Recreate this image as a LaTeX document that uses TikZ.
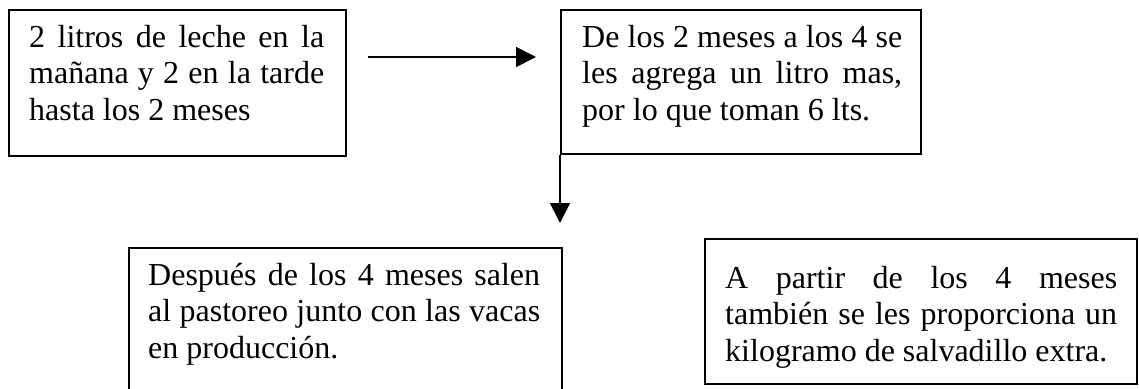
\documentclass[tikz,border=0pt]{standalone}
\usepackage{fontspec}
\setmainfont{Liberation Serif}
\usetikzlibrary{arrows.meta}
\hyphenpenalty=10000
\tolerance=10000
\hbadness=10000

\begin{document}
\begin{tikzpicture}[x=1pt,y=-1pt]

\tikzset{caja/.style = {shape=rectangle,draw,line width=1.8pt,anchor=north west,inner sep=0pt}}
\tikzset{texto/.style = {anchor=north west,inner sep=0pt,align=justify,font=\fontsize{32}{36.5}\selectfont}}
\tikzset{edge/.style = {line width=1.8pt,-{Triangle[length=20pt,width=20pt]}}}

\useasboundingbox (0,0) rectangle (1139,388);

\node[caja,minimum width=337pt,minimum height=146pt] (c1) at (8,9) {};
\node[caja,minimum width=360pt,minimum height=144pt] (c2) at (560,9) {};
\node[caja,minimum width=433pt,minimum height=160pt] (c3) at (128,247) {};
\node[caja,minimum width=432pt,minimum height=145pt] (c4) at (704,238) {};

\node[texto,text width=295pt] (t1) at (29,25) {2 litros de leche en la\linebreak mañana y 2 en la tarde\linebreak hasta los 2 meses};
\node[texto,text width=320pt] (t2) at (582,25) {De los 2 meses a los 4 se\linebreak les agrega un litro mas,\linebreak por lo que toman 6 lts.};
\node[texto,text width=392pt] (t3) at (148,263) {Después de los 4 meses salen\linebreak al pastoreo junto con las vacas\linebreak en producción.};
\node[texto,text width=392pt] (t4) at (725,266) {A partir de los 4 meses\linebreak también se les proporciona un\linebreak kilogramo de salvadillo extra.};

\coordinate (p1) at (368,57);
\coordinate (p2) at (536,57);
\coordinate (p3) at (560,223);

\draw[edge] (p1) to (p2);
\draw[edge] (c2.south west) to (p3);

\end{tikzpicture}
\end{document}
